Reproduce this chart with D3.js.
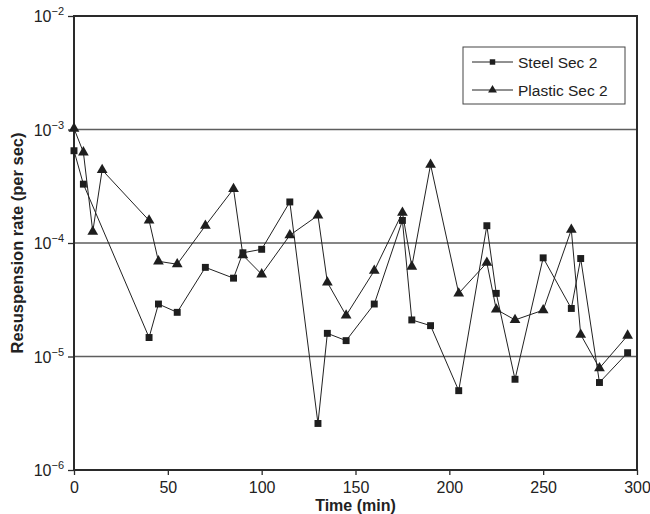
<!DOCTYPE html>
<html>
<head>
<meta charset="utf-8">
<script src="https://cdn.jsdelivr.net/npm/d3@7"></script>
<style>
  body { margin: 0; background: #fff; }
  text { font-family: "Liberation Sans", Arial, sans-serif; fill: #222; }
</style>
</head>
<body>
<div id="wrapper"></div>
<script>
// data
const times = [0, 5, 10, 15, 40, 45, 55, 70, 85, 90, 100, 115, 130, 135, 145, 160, 175, 180, 190, 205, 220, 225, 235, 250, 265, 270, 280, 295];
const steelTimes = [0, 5, 40, 45, 55, 70, 85, 90, 100, 115, 130, 135, 145, 160, 175, 180, 190, 205, 220, 225, 235, 250, 265, 270, 280, 295];
const steelRates = [6.5e-4, 3.3e-4, 1.47e-5, 2.9e-5, 2.45e-5, 6.1e-5, 4.9e-5, 8.2e-5, 8.8e-5, 2.3e-4, 2.57e-6, 1.6e-5, 1.38e-5, 2.9e-5, 1.58e-4, 2.1e-5, 1.87e-5, 5.0e-6, 1.42e-4, 3.6e-5, 6.3e-6, 7.4e-5, 2.65e-5, 7.3e-5, 5.9e-6, 1.08e-5];
const plasticTimes = times;
const plasticRates = [1.02e-3, 6.3e-4, 1.26e-4, 4.4e-4, 1.58e-4, 6.9e-5, 6.5e-5, 1.42e-4, 3.0e-4, 7.8e-5, 5.3e-5, 1.17e-4, 1.75e-4, 4.5e-5, 2.3e-5, 5.7e-5, 1.85e-4, 6.2e-5, 4.9e-4, 3.6e-5, 6.7e-5, 2.6e-5, 2.1e-5, 2.56e-5, 1.31e-4, 1.56e-5, 7.9e-6, 1.53e-5];
const xTicks = [0, 50, 100, 150, 200, 250, 300];
const yTicks = [1e-6, 1e-5, 1e-4, 1e-3, 1e-2];
const seriesNames = ["Steel Sec 2", "Plastic Sec 2"];

const width = 650, height = 514;
const mLeft = 74, mRight = 637, mTop = 16, mBottom = 470;

const svg = d3.select("#wrapper").append("svg")
  .attr("width", width).attr("height", height);

const x = d3.scaleLinear().domain([0, 300]).range([mLeft, mRight]);
const y = d3.scaleLog().domain([1e-6, 1e-2]).range([mBottom, mTop]);

// gridlines at each decade
svg.selectAll(".grid")
  .data(yTicks.slice(1, -1))
  .enter().append("line")
  .attr("x1", mLeft).attr("x2", mRight)
  .attr("y1", d => y(d)).attr("y2", d => y(d))
  .style("stroke", "#5e5e5e").style("stroke-width", 1.3);

// frame
svg.append("rect")
  .attr("x", mLeft).attr("y", mTop)
  .attr("width", mRight - mLeft).attr("height", mBottom - mTop)
  .style("fill", "none").style("stroke", "#2a2a2a").style("stroke-width", 2);

// x axis
const xAxis = svg.append("g")
  .attr("transform", "translate(0," + mBottom + ")")
  .call(d3.axisBottom(x).tickValues(xTicks).tickSize(5).tickSizeOuter(0));
xAxis.select(".domain").remove();
xAxis.selectAll("line").style("stroke", "#2a2a2a").style("stroke-width", 1.3);
xAxis.selectAll("text").attr("y", 23).attr("dy", null).style("font-size", "16px")
  .style("font-family", "'Liberation Sans', Arial, sans-serif").style("fill", "#222");

// y axis with superscript labels
const yAxis = svg.append("g")
  .attr("transform", "translate(" + mLeft + ",0)")
  .call(d3.axisLeft(y).tickValues(yTicks).tickSize(6).tickFormat(""));
yAxis.select(".domain").remove();
yAxis.selectAll("line").style("stroke", "#2a2a2a").style("stroke-width", 1.3);

const yLab = svg.selectAll(".ylab")
  .data(yTicks)
  .enter().append("text")
  .attr("x", mLeft - 10)
  .attr("y", d => y(d) + 6)
  .attr("text-anchor", "end")
  .style("font-size", "16px");
yLab.append("tspan").text("10");
yLab.append("tspan").attr("dy", -7).style("font-size", "11px")
  .text(d => "\u2212" + Math.round(-Math.log10(d)));

// axis titles
svg.append("text")
  .attr("x", (mLeft + mRight) / 2).attr("y", 511)
  .attr("text-anchor", "middle")
  .style("font-size", "16px").style("font-weight", "bold")
  .text("Time (min)");

svg.append("text")
  .attr("transform", "translate(23," + 243 + ") rotate(-90)")
  .attr("text-anchor", "middle")
  .style("font-size", "16.5px").style("font-weight", "bold")
  .text("Resuspension rate (per sec)");

const line = d3.line().x(d => x(d[0])).y(d => y(d[1]));
const steel = steelTimes.map((t, i) => [t, steelRates[i]]);
const plastic = plasticTimes.map((t, i) => [t, plasticRates[i]]);

const sym = {
  square: d3.symbol().type(d3.symbolSquare).size(48),
  triangle: d3.symbol().type(d3.symbolTriangle).size(50)
};

function drawSeries(data, shape) {
  svg.append("path").datum(data)
    .attr("d", line)
    .style("fill", "none").style("stroke", "#222").style("stroke-width", 1);
  svg.selectAll(".pt-" + shape)
    .data(data)
    .enter().append("path")
    .attr("class", "pt-" + shape)
    .attr("transform", d => "translate(" + x(d[0]) + "," + y(d[1]) + ")")
    .attr("d", sym[shape])
    .style("fill", "#1e1e1e");
}
drawSeries(steel, "square");
drawSeries(plastic, "triangle");

// legend
const lg = svg.append("g");
lg.append("rect")
  .attr("x", 463).attr("y", 47).attr("width", 162).attr("height", 57)
  .style("fill", "#fff").style("stroke", "#444").style("stroke-width", 1);
seriesNames.forEach((name, i) => {
  const yy = 62 + i * 28;
  lg.append("line").attr("x1", 472).attr("x2", 513).attr("y1", yy).attr("y2", yy)
    .style("stroke", "#222").style("stroke-width", 1);
  lg.append("path")
    .attr("transform", "translate(492.5," + yy + ")")
    .attr("d", d3.symbol().type(i == 0 ? d3.symbolSquare : d3.symbolTriangle).size(i == 0 ? 30 : 34))
    .style("fill", "#1e1e1e");
  lg.append("text").attr("x", 518).attr("y", yy + 5.5)
    .style("font-size", "15.5px").text(name);
});
</script>
</body>
</html>
